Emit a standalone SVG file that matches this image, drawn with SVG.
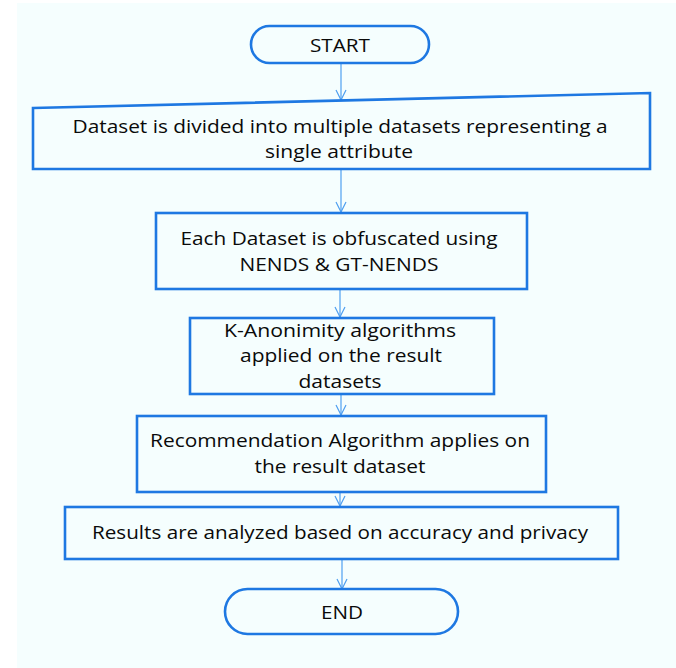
<svg xmlns="http://www.w3.org/2000/svg" width="676" height="668" viewBox="0 0 676 668">
  <style>
    .box { fill: #f5fefe; stroke: #1e78e2; stroke-width: 2.6; }
    .lbl { font-family: "Open Sans", "Noto Sans", "Liberation Sans", sans-serif; font-size: 19px; fill: #0a0a0a; text-anchor: middle; }
    .conn { stroke: #4f9ff0; stroke-width: 1.2; fill: none; marker-end: url(#arrow); }
  </style>
  <defs>
    <marker id="arrow" viewBox="0 0 12 12" refX="11" refY="6" markerWidth="12" markerHeight="12" markerUnits="userSpaceOnUse" orient="auto">
      <path d="M1,1 L11,6 L1,11" fill="none" stroke="#4f9ff0" stroke-width="1.2"/>
    </marker>
  </defs>

  <!-- page background -->
  <rect x="0" y="0" width="676" height="668" fill="#ffffff"/>
  <rect x="17" y="3" width="659" height="665" fill="#f5fefe"/>

  <!-- connectors -->
  <g id="connectors">
    <line class="conn" x1="341" y1="63" x2="341" y2="100"/>
    <line class="conn" x1="341" y1="169" x2="341" y2="212"/>
    <line class="conn" x1="340" y1="289" x2="340" y2="317"/>
    <line class="conn" x1="341" y1="394" x2="341" y2="415"/>
    <line class="conn" x1="340" y1="492" x2="340" y2="506"/>
    <line class="conn" x1="342" y1="559" x2="342" y2="589"/>
  </g>

  <g id="start">
    <rect class="box" x="251" y="26" width="178" height="37" rx="18.5"/>
    <text class="lbl" x="340" y="52" textLength="60" lengthAdjust="spacingAndGlyphs">START</text>
  </g>

  <g id="split">
    <path class="box" d="M33,108 L650,93 L650,169 L33,169 Z"/>
    <text class="lbl" x="340" y="133" textLength="535" lengthAdjust="spacingAndGlyphs">Dataset is divided into multiple datasets representing a</text>
    <text class="lbl" x="339" y="158" textLength="148" lengthAdjust="spacingAndGlyphs">single attribute</text>
  </g>

  <g id="obfuscate">
    <rect class="box" x="156" y="213" width="371" height="76"/>
    <text class="lbl" x="339" y="245" textLength="317" lengthAdjust="spacingAndGlyphs">Each Dataset is obfuscated using</text>
    <text class="lbl" x="339" y="271" textLength="199" lengthAdjust="spacingAndGlyphs">NENDS &amp; GT-NENDS</text>
  </g>

  <g id="anonymity">
    <rect class="box" x="190" y="318" width="304" height="76"/>
    <text class="lbl" x="340" y="337" textLength="232" lengthAdjust="spacingAndGlyphs">K-Anonimity algorithms</text>
    <text class="lbl" x="341" y="362" textLength="202" lengthAdjust="spacingAndGlyphs">applied on the result</text>
    <text class="lbl" x="340" y="388" textLength="83" lengthAdjust="spacingAndGlyphs">datasets</text>
  </g>

  <g id="recommend">
    <rect class="box" x="137" y="416" width="409" height="76"/>
    <text class="lbl" x="340" y="447" textLength="380" lengthAdjust="spacingAndGlyphs">Recommendation Algorithm applies on</text>
    <text class="lbl" x="340" y="473" textLength="171" lengthAdjust="spacingAndGlyphs">the result dataset</text>
  </g>

  <g id="analyze">
    <rect class="box" x="65" y="507" width="553" height="52"/>
    <text class="lbl" x="340" y="539" textLength="496" lengthAdjust="spacingAndGlyphs">Results are analyzed based on accuracy and privacy</text>
  </g>

  <g id="end">
    <rect class="box" x="225" y="589" width="233" height="45" rx="22.5"/>
    <text class="lbl" x="342" y="619" textLength="42" lengthAdjust="spacingAndGlyphs">END</text>
  </g>
</svg>
